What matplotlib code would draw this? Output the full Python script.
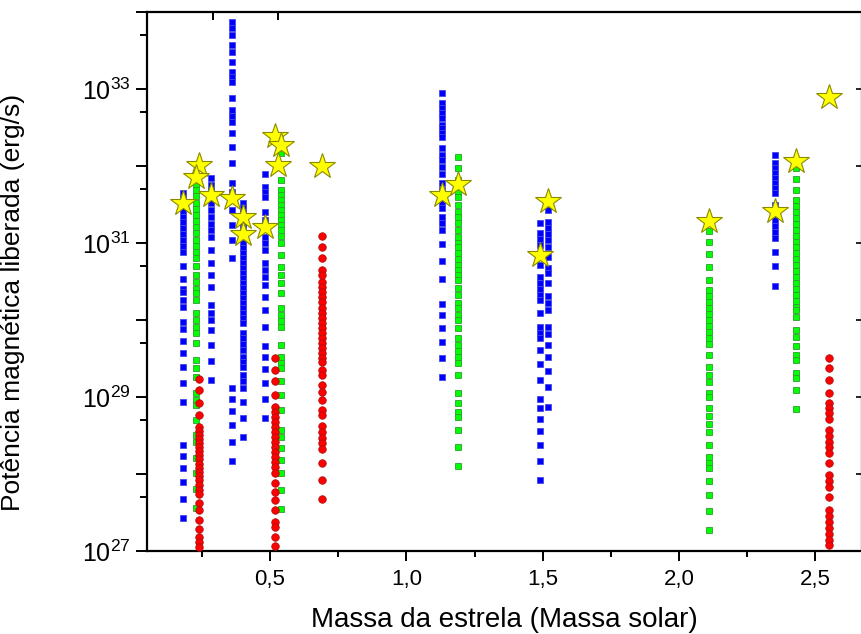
import numpy as np
import matplotlib
matplotlib.use("Agg")
import matplotlib.pyplot as plt
from matplotlib.ticker import FixedLocator, FuncFormatter, NullFormatter

plt.rcParams['font.family'] = ['Liberation Sans', 'DejaVu Sans']
plt.rcParams['mathtext.fontset'] = 'custom'
plt.rcParams['mathtext.rm'] = 'Liberation Sans'

# log10 of the released magnetic power (erg/s), one column per star mass
blue_cols = {
    0.18: [31.65, 31.57, 31.49, 31.42, 31.34, 31.27, 31.20, 31.12, 31.04, 30.96, 30.88,
           30.70, 30.53, 30.40, 30.36, 30.26, 30.17, 29.97, 29.88, 29.73, 29.57, 29.39,
           29.18, 28.94, 28.38, 28.23, 28.08, 27.90, 27.68, 27.43],
    0.285: [31.84, 31.75, 31.68, 31.60, 31.52, 31.43, 31.34, 31.25, 31.17, 31.08, 30.91,
            30.74, 30.58, 30.43, 30.20, 30.09, 30.00, 29.87, 29.68, 29.47, 29.22],
    0.36: [33.87, 33.79, 33.70, 33.57, 33.48, 33.35, 33.22, 33.16, 33.09, 32.88, 32.73,
           32.65, 32.57, 32.43, 32.25, 32.04, 31.78, 31.66, 31.43, 31.23, 31.04, 30.81,
           29.12, 28.97, 28.82, 28.64, 28.42, 28.17],
    0.40: [31.52, 31.455, 31.39, 31.325, 31.26, 31.195, 31.13, 31.065, 31.00, 30.935,
           30.87, 30.805, 30.74, 30.675, 30.61, 30.545, 30.48, 30.415, 30.35, 30.286,
           30.22, 30.156, 30.09, 30.026, 29.96, 29.83, 29.77, 29.69, 29.61, 29.52,
           29.455, 29.39, 29.29, 29.21, 29.12, 28.935, 28.73, 28.48],
    0.48: [31.90, 31.73, 31.66, 31.60, 31.40, 31.30, 31.195, 31.08, 31.00, 30.91, 30.74,
           30.65, 30.56, 30.455, 30.30, 30.13, 29.91, 29.66, 29.52, 29.36, 29.18, 28.97,
           28.73],
    1.13: [32.95, 32.82, 32.75, 32.69, 32.62, 32.53, 32.49, 32.43, 32.38, 32.23, 32.14,
           32.08, 31.99, 31.90, 31.78, 31.69, 31.60, 31.52, 31.455, 31.34, 31.26, 31.17,
           30.99, 30.77, 30.53, 30.21, 30.07, 29.90, 29.71, 29.51, 29.26],
    1.49: [31.26, 31.13, 31.05, 30.97, 30.84, 30.71, 30.56, 30.48, 30.40, 30.325, 30.26,
           30.09, 29.91, 29.83, 29.77, 29.61, 29.43, 29.22, 28.97, 28.86, 28.71, 28.56,
           28.38, 28.17, 27.92],
    1.52: [31.43, 31.27, 31.195, 31.12, 31.04, 30.95, 30.82, 30.675, 30.61, 30.48, 30.31,
           30.22, 30.13, 29.91, 29.82, 29.68, 29.52, 29.34, 29.13, 28.87],
    2.35: [32.14, 32.04, 31.975, 31.91, 31.84, 31.78, 31.71, 31.65, 31.49, 31.43, 31.36,
           31.30, 31.22, 31.14, 31.07, 30.88, 30.70, 30.44],
}

green_cols = {
    0.23: [31.77, 31.69, 31.61, 31.52, 31.44, 31.36, 31.29, 31.21, 31.13, 31.04, 30.96,
           30.88, 30.81, 30.70, 30.59, 30.49, 30.40, 30.35, 30.26, 30.09, 30.00, 29.91,
           29.83, 29.70, 29.48, 29.38, 29.26, 29.05, 28.96, 28.90, 28.70, 28.51, 28.42,
           28.21, 28.01, 27.81, 27.56],
    0.54: [32.17, 31.82, 31.69, 31.62, 31.56, 31.49, 31.43, 31.36, 31.30, 31.23, 31.17,
           31.09, 31.00, 30.84, 30.69, 30.58, 30.48, 30.35, 30.156, 30.07, 29.99, 29.91,
           29.68, 29.52, 29.44, 29.38, 29.21, 29.03, 28.83, 28.57, 28.48, 28.34, 28.18,
           28.01, 27.79, 27.55],
    1.19: [32.12, 31.975, 31.82, 31.74, 31.66, 31.60, 31.49, 31.40, 31.34, 31.26, 31.17,
           31.08, 31.00, 30.95, 30.87, 30.79, 30.71, 30.65, 30.585, 30.52, 30.42, 30.325,
           30.22, 30.156, 30.07, 30.00, 29.90, 29.77, 29.68, 29.60, 29.52, 29.44, 29.29,
           29.05, 28.92, 28.81, 28.74, 28.57, 28.35, 28.10],
    2.11: [31.16, 31.01, 30.86, 30.69, 30.52, 30.39, 30.31, 30.23, 30.156, 30.08, 30.00,
           29.92, 29.84, 29.77, 29.69, 29.55, 29.39, 29.29, 29.20, 29.05, 29.00, 28.86,
           28.75, 28.65, 28.55, 28.38, 28.22, 28.14, 28.08, 27.91, 27.73, 27.52, 27.27],
    2.43: [31.975, 31.83, 31.69, 31.56, 31.48, 31.40, 31.325, 31.25, 31.17, 31.09, 31.01,
           30.95, 30.87, 30.79, 30.71, 30.64, 30.56, 30.48, 30.40, 30.325, 30.25, 30.17,
           30.13, 30.04, 29.87, 29.78, 29.66, 29.55, 29.48, 29.31, 29.25, 29.09, 28.84],
}

red_cols = {
    0.24: [29.23, 29.09, 28.92, 28.77, 28.61, 28.56, 28.51, 28.45, 28.40, 28.35, 28.30,
           28.25, 28.20, 28.13, 28.08, 28.03, 27.97, 27.92, 27.86, 27.79, 27.74, 27.62,
           27.53, 27.40, 27.29, 27.18, 27.12, 27.05],
    0.52: [29.507, 29.35, 29.21, 29.03, 28.87, 28.805, 28.74, 28.675, 28.61, 28.545,
           28.48, 28.416, 28.35, 28.286, 28.22, 28.156, 28.09, 28.013, 27.88, 27.77,
           27.66, 27.53, 27.38, 27.31, 27.18, 27.065],
    0.69: [31.09, 30.95, 30.81, 30.65, 30.585, 30.49, 30.43, 30.36, 30.30, 30.23, 30.156,
           30.09, 30.026, 29.96, 29.90, 29.83, 29.77, 29.70, 29.64, 29.57, 29.51, 29.455,
           29.35, 29.29, 29.16, 29.07, 28.96, 28.83, 28.77, 28.62, 28.545, 28.47, 28.40,
           28.33, 28.14, 27.92, 27.68],
    2.55: [29.51, 29.38, 29.22, 29.05, 28.92, 28.86, 28.79, 28.71, 28.57, 28.49, 28.42,
           28.35, 28.27, 28.14, 27.99, 27.91, 27.83, 27.70, 27.53, 27.45, 27.38, 27.30,
           27.22, 27.14, 27.08],
}

star_mass = [0.18, 0.24, 0.23, 0.285, 0.36, 0.40, 0.40, 0.48, 0.52, 0.54, 0.53, 0.69,
             1.13, 1.19, 1.52, 1.49, 2.11, 2.55, 2.43, 2.35]
star_logp = [31.52, 32.01, 31.86, 31.62, 31.58, 31.34, 31.12, 31.21, 32.39, 32.27, 32.01,
             32.00, 31.62, 31.77, 31.54, 30.84, 31.29, 32.90, 32.07, 31.42]


def columns_to_xy(cols):
    xs, ys = [], []
    for m, vals in cols.items():
        xs += [m] * len(vals)
        ys += list(10.0 ** np.array(vals))
    return xs, ys


fig = plt.figure(figsize=(8.61, 6.34), dpi=100)
ax = fig.add_axes([0.171, 0.131, 0.830, 0.850])

bx, by = columns_to_xy(blue_cols)
gx, gy = columns_to_xy(green_cols)
rx, ry = columns_to_xy(red_cols)

ax.plot(bx, by, 's', ms=4.9, mfc='#0000ff', mec='#4848e8', mew=0.6, zorder=3)
ax.plot(gx, gy, 's', ms=4.9, mfc='#00ff00', mec='#2f9a2f', mew=0.6, zorder=3)
ax.plot(rx, ry, 'o', ms=5.4, mfc='#ff0000', mec='#b01010', mew=0.6, zorder=3)
ax.plot(star_mass, 10.0 ** np.array(star_logp), '*', ms=19, mfc='#ffff00',
        mec='#8a8a00', mew=0.8, zorder=4)

ax.set_yscale('log')
ax.set_xlim(0.05, 2.67)
ax.set_ylim(1e27, 1e34)

# x ticks
ax.xaxis.set_major_locator(FixedLocator([0.5, 1.0, 1.5, 2.0, 2.5]))
ax.xaxis.set_minor_locator(FixedLocator([0.25, 0.75, 1.25, 1.75, 2.25]))
ax.xaxis.set_major_formatter(FuncFormatter(lambda v, p: f"{v:.1f}".replace('.', ',')))
ax.tick_params(axis='x', which='major', direction='out', length=7, width=1.4,
               labelsize=16, pad=6)
ax.tick_params(axis='x', which='minor', direction='out', length=4, width=1.4)

# y ticks: every decade, labels on odd exponents
ax.yaxis.set_major_locator(FixedLocator([10.0 ** k for k in range(27, 35)]))
ax.yaxis.set_minor_locator(FixedLocator([5 * 10.0 ** k for k in range(27, 34)]))
ax.yaxis.set_minor_formatter(NullFormatter())
ax.yaxis.set_major_formatter(FuncFormatter(
    lambda v, p: r"$\mathregular{10^{%d}}$" % round(np.log10(v)) if round(np.log10(v)) % 2 else ""))
ax.tick_params(axis='y', which='major', direction='out', length=8, width=1.4,
               labelsize=18, pad=4)
ax.tick_params(axis='y', which='minor', direction='out', length=5, width=1.4)

# right side ticks (decades only, pointing in)
ry_ax = ax.secondary_yaxis('right')
ry_ax.set_yscale('log')
ry_ax.yaxis.set_major_locator(FixedLocator([10.0 ** k for k in range(28, 34)]))
ry_ax.yaxis.set_minor_locator(FixedLocator([]))
ry_ax.yaxis.set_major_formatter(NullFormatter())
ry_ax.tick_params(axis='y', direction='in', length=4, width=1.2)
ry_ax.spines['right'].set_visible(False)

# top ticks pointing in
tx_ax = ax.secondary_xaxis('top')
tx_ax.xaxis.set_major_locator(FixedLocator([0.29, 0.53]))
tx_ax.xaxis.set_major_formatter(NullFormatter())
tx_ax.tick_params(axis='x', direction='in', length=6, width=1.4)
tx_ax.spines['top'].set_visible(False)

for s in ax.spines.values():
    s.set_linewidth(1.6)

ax.set_xlabel("Massa da estrela (Massa solar)", fontsize=20, labelpad=12)
ax.set_ylabel("Potência magnética liberada (erg/s)", fontsize=19)
ax.yaxis.set_label_coords(-0.171, 0.462)

fig.savefig("out.png", dpi=100)
